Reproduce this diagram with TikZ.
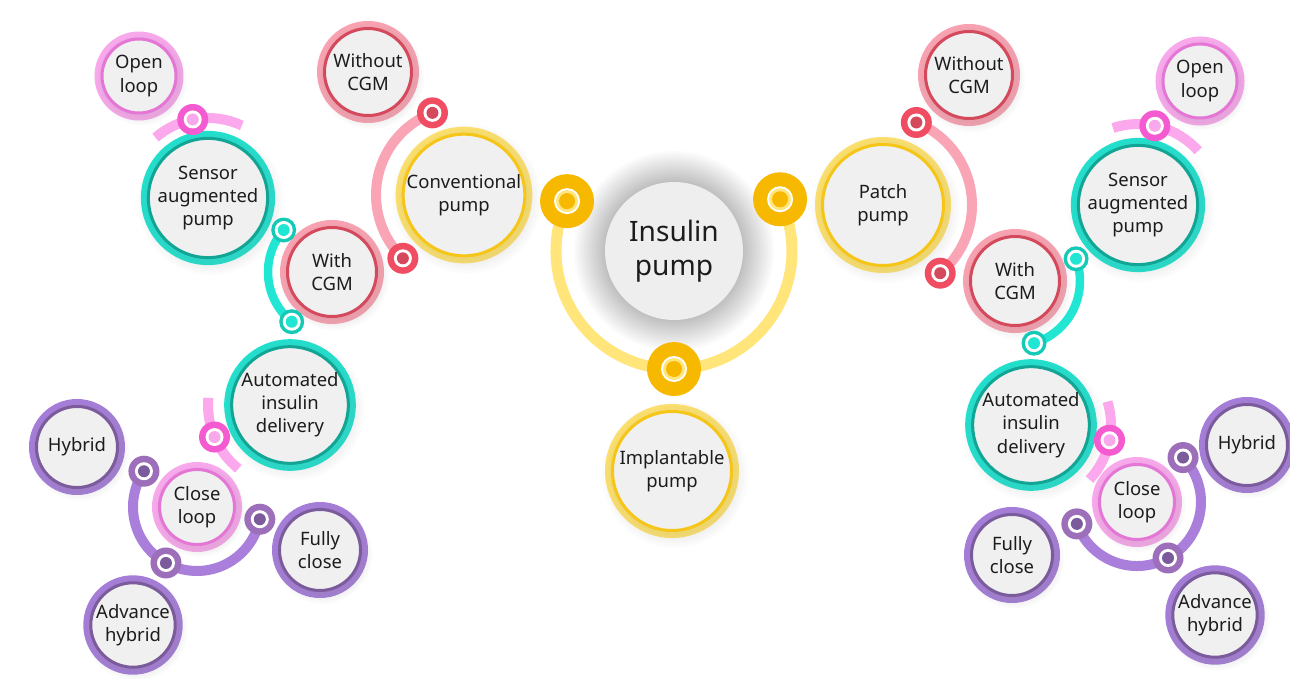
\documentclass[tikz,border=0pt]{standalone}
\usepackage{fontspec}
\setmainfont{Noto Sans}
\usetikzlibrary{shadows,backgrounds,fadings}

\definecolor{bubblefill}{HTML}{F0F0F0}
\definecolor{hubfill}{HTML}{EEEEEE}
\definecolor{inktext}{HTML}{1C1C1C}
% bubble rings
\definecolor{yelout}{HTML}{FFE36E}
\definecolor{yelin}{HTML}{F5C518}
\definecolor{redout}{HTML}{F9A3B2}
\definecolor{redin}{HTML}{D44A5C}
\definecolor{tealout}{HTML}{1FE3D0}
\definecolor{tealin}{HTML}{12A595}
\definecolor{magout}{HTML}{F8A9EC}
\definecolor{magin}{HTML}{E476D6}
\definecolor{purout}{HTML}{A57DD8}
\definecolor{purin}{HTML}{7C5B9C}
% arcs and joints
\definecolor{yelarc}{HTML}{FFE57A}
\definecolor{redarc}{HTML}{F9A5B5}
\definecolor{tealarc}{HTML}{21E6D4}
\definecolor{magarc}{HTML}{FBA9EC}
\definecolor{purarc}{HTML}{A97FDB}
\definecolor{yeljoint}{HTML}{F7B800}
\definecolor{redjoint}{HTML}{F04D63}
\definecolor{tealjoint}{HTML}{14C9B6}
\definecolor{magjoint}{HTML}{F55BD0}
\definecolor{purjoint}{HTML}{9D6FBA}

\tikzset{
  bubble/.style 2 args={circle, fill=bubblefill, draw=#2, line width=0.6mm,
    preaction={draw=#1, line width=3mm},
    circular drop shadow={shadow xshift=0.4mm, shadow yshift=-0.6mm, shadow scale=1.24,
      opacity=0.14, path fading=circle with fuzzy edge 20 percent},
    align=center, inner sep=0pt, text=inktext, font=\fontsize{10.5}{13.2}\selectfont},
  yelbub/.style={bubble={yelout}{yelin}},
  redbub/.style={bubble={redout}{redin}},
  tealbub/.style={bubble={tealout}{tealin}},
  magbub/.style={bubble={magout}{magin}},
  purbub/.style={bubble={purout}{purin}},
  joint/.style 2 args={circle, fill=#1, minimum size=6.2mm, inner sep=0pt,
    path picture={\fill[white] (path picture bounding box.center) circle (1.8mm);
      \fill[#2] (path picture bounding box.center) circle (1.2mm);}},
  bigjoint/.style={circle, fill=yeljoint, minimum size=10.8mm, inner sep=0pt,
    path picture={\fill[white] (path picture bounding box.center) circle (2.6mm);
      \fill[yelarc] (path picture bounding box.center) circle (2.2mm);
      \fill[yeljoint] (path picture bounding box.center) circle (1.6mm);}},
  link/.style={draw=#1, line width=2mm},
}

\begin{document}
\begin{tikzpicture}[x=0.2mm, y=0.2mm]
\useasboundingbox (0,0) rectangle (1290,-679);

% hub
\node[circle, fill=hubfill, minimum size=27.6mm, align=center, text=inktext,
  font=\fontsize{16}{19.5}\selectfont] (ins) at (674,-251) {Insulin\\pump};

% first ring
\node[yelbub, minimum size=24.2mm] (conv) at (464,-195) {Conventional\\pump};
\node[yelbub, minimum size=24.2mm] (patch) at (883,-205) {Patch\\pump};
\node[yelbub, minimum size=23.8mm] (impl) at (672,-471) {Implantable\\pump};

% left branch
\node[redbub, minimum size=17.4mm] (woL) at (368,-72) {Without\\CGM};
\node[redbub, minimum size=17.8mm] (withL) at (332,-272) {With\\CGM};
\node[tealbub, minimum size=22.2mm] (sapL) at (208,-198) {Sensor\\augmented\\pump};
\node[magbub, minimum size=14.8mm] (openL) at (139,-76) {Open\\loop};
\node[tealbub, minimum size=22.2mm] (aidL) at (290,-405) {Automated\\insulin\\delivery};
\node[magbub, minimum size=15mm] (closeL) at (197,-507) {Close\\loop};
\node[purbub, minimum size=16.2mm] (hybL) at (77,-447) {Hybrid};
\node[purbub, minimum size=16.2mm] (fullL) at (320,-550) {Fully\\close};
\node[purbub, minimum size=16.2mm] (advL) at (133,-625) {Advance\\hybrid};

% right branch
\node[redbub, minimum size=17.4mm] (woR) at (969,-75) {Without\\CGM};
\node[redbub, minimum size=17.8mm] (withR) at (1015,-281) {With\\CGM};
\node[tealbub, minimum size=22.2mm] (sapR) at (1138,-205) {Sensor\\augmented\\pump};
\node[magbub, minimum size=14.8mm] (openR) at (1200,-81) {Open\\loop};
\node[tealbub, minimum size=22.2mm] (aidR) at (1031,-425) {Automated\\insulin\\delivery};
\node[magbub, minimum size=15mm] (closeR) at (1137,-502) {Close\\loop};
\node[purbub, minimum size=16.2mm] (hybR) at (1247,-445) {Hybrid};
\node[purbub, minimum size=16.2mm] (fullR) at (1012,-555) {Fully\\close};
\node[purbub, minimum size=16.2mm] (advR) at (1215,-615) {Advance\\hybrid};

% joints
\node[bigjoint] (jyl) at ([shift={(155:118)}]ins.center) {};
\node[bigjoint] (jyb) at ([shift={(270:118)}]ins.center) {};
\node[bigjoint] (jyr) at ([shift={(26:118)}]ins.center) {};
\node[joint={redjoint}{redin}] (jcv1) at ([shift={(111:88)}]conv.center) {};
\node[joint={redjoint}{redin}] (jcv2) at ([shift={(226:88)}]conv.center) {};
\node[joint={redjoint}{redin}] (jpt1) at ([shift={(68:89)}]patch.center) {};
\node[joint={redjoint}{redin}] (jpt2) at ([shift={(-50:89)}]patch.center) {};
\node[joint={magjoint}{magout}] (jsL) at ([shift={(101:80)}]sapL.center) {};
\node[joint={magjoint}{magout}] (jsR) at ([shift={(78:81)}]sapR.center) {};
\node[joint={tealjoint}{tealarc}, minimum size=5mm] (jtL1) at ([shift={(139:64)}]withL.center) {};
\node[joint={tealjoint}{tealarc}, minimum size=5mm] (jtL2) at ([shift={(231:64)}]withL.center) {};
\node[joint={tealjoint}{tealarc}, minimum size=5mm] (jtR1) at ([shift={(20:65)}]withR.center) {};
\node[joint={tealjoint}{tealarc}, minimum size=5mm] (jtR2) at ([shift={(-73:65)}]withR.center) {};
\node[joint={magjoint}{magout}] (jaL) at ([shift={(203:82)}]aidL.center) {};
\node[joint={magjoint}{magout}] (jaR) at ([shift={(-11:80)}]aidR.center) {};
\node[joint={purjoint}{purin}] (jpL1) at ([shift={(146:64)}]closeL.center) {};
\node[joint={purjoint}{purin}] (jpL2) at ([shift={(241:64)}]closeL.center) {};
\node[joint={purjoint}{purin}] (jpL3) at ([shift={(349:64)}]closeL.center) {};
\node[joint={purjoint}{purin}] (jpR1) at ([shift={(200:64)}]closeR.center) {};
\node[joint={purjoint}{purin}] (jpR2) at ([shift={(-61:64)}]closeR.center) {};
\node[joint={purjoint}{purin}] (jpR3) at ([shift={(44:64)}]closeR.center) {};

% free ends of the short arcs
\coordinate (msL) at ([shift={(131:80)}]sapL.center);
\coordinate (msR) at ([shift={(108:81)}]sapR.center);
\coordinate (maL) at ([shift={(175:82)}]aidL.center);
\coordinate (maR) at ([shift={(17:80)}]aidR.center);

\begin{scope}[on background layer]
  \fill[white] (0,0) rectangle (1290,-679);
  \foreach \r in {70,72,...,100}
    \fill[black, opacity=0.014] (ins.center) circle (\r);
  \draw[link=yelarc, line width=2.2mm] (jyl.center) arc[start angle=155, end angle=386, radius=118];
  \draw[link=redarc] (jcv1.center) arc[start angle=111, end angle=226, radius=88];
  \draw[link=redarc] (jpt1.center) arc[start angle=68, end angle=-50, radius=89];
  \draw[link=magarc] (msL) arc[start angle=131, end angle=65, radius=80];
  \draw[link=magarc] (msR) arc[start angle=108, end angle=42, radius=81];
  \draw[link=tealarc, line width=1.7mm] (jtL1.center) arc[start angle=139, end angle=231, radius=64];
  \draw[link=tealarc, line width=1.7mm] (jtR1.center) arc[start angle=20, end angle=-73, radius=65];
  \draw[link=magarc] (maL) arc[start angle=175, end angle=231, radius=82];
  \draw[link=magarc] (maR) arc[start angle=17, end angle=-43, radius=80];
  \draw[link=purarc] (jpL1.center) arc[start angle=146, end angle=349, radius=64];
  \draw[link=purarc] (jpR1.center) arc[start angle=-160, end angle=44, radius=64];
\end{scope}
\end{tikzpicture}
\end{document}
